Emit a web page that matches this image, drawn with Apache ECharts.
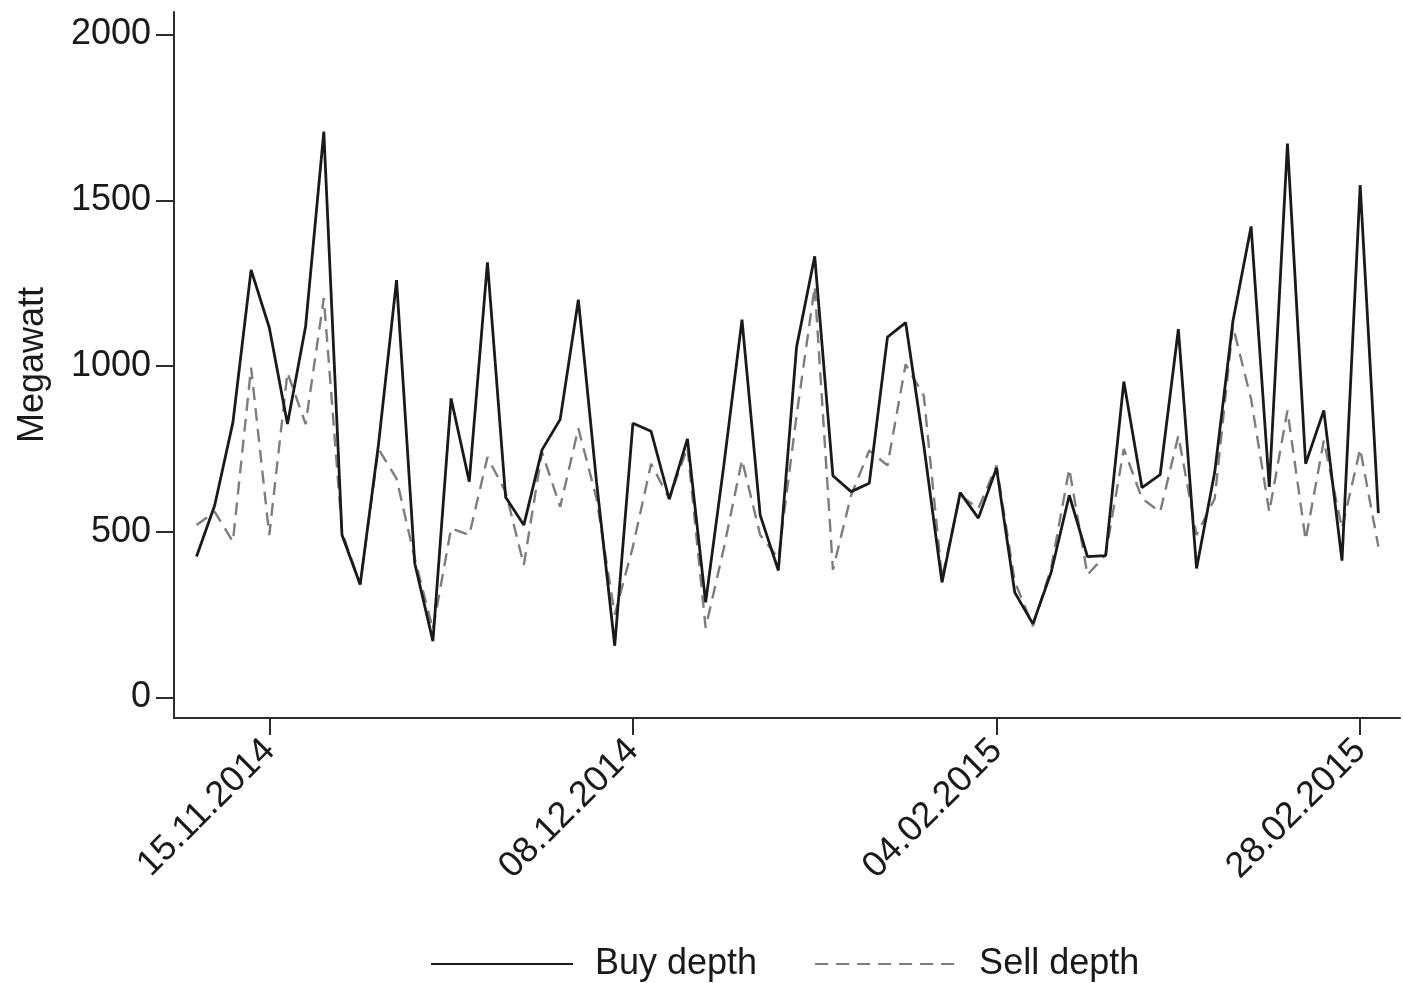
<!DOCTYPE html>
<html>
<head>
<meta charset="utf-8">
<script src="https://cdn.jsdelivr.net/npm/echarts@6/dist/echarts.min.js"></script>
<style>
  html, body { margin: 0; padding: 0; background: #ffffff; }
  #chart { width: 1403px; height: 983px; }
</style>
</head>
<body>
<div id="chart"></div>
<script>
// Daily order-book depth (MW), one value per observation day
const buyDepth = [
  425, 580, 830, 1290, 1116, 825, 1120, 1707, 490, 341,
  760, 1259, 405, 170, 902, 651, 1313, 604, 520, 747,
  839, 1200, 650, 156, 827, 803, 598, 780, 287, 700,
  1140, 550, 383, 1057, 1331, 669, 621, 646, 1087, 1131,
  760, 347, 618, 541, 692, 317, 222, 377, 610, 425,
  428, 953, 633, 672, 1111, 389, 680, 1135, 1421, 635,
  1671, 705, 866, 413, 1546, 556
];
const sellDepth = [
  520, 560, 470, 995, 490, 980, 825, 1205, 500, 340,
  750, 660, 420, 205, 510, 490, 725, 620, 400, 740,
  575, 812, 600, 250, 455, 705, 600, 755, 210, 450,
  717, 490, 420, 850, 1240, 385, 610, 745, 700, 1005,
  910, 360, 610, 570, 700, 350, 215, 390, 690, 370,
  430, 750, 600, 560, 790, 490, 600, 1120, 900, 560,
  866, 475, 775, 510, 750, 455
];
// Observation positions that carry a date label
const tickPositions = [4, 24, 44, 64];
const tickLabels = ['15.11.2014', '08.12.2014', '04.02.2015', '28.02.2015'];
const yTicks = [0, 500, 1000, 1500, 2000];

const FONT = '"Liberation Sans", Arial, Helvetica, sans-serif';
const AXIS_COLOR = '#2b2b2b';
const TEXT_COLOR = '#1a1a1a';

const toPairs = arr => arr.map((v, i) => [i, v]);

const chart = echarts.init(document.getElementById('chart'), null, { renderer: 'canvas' });
chart.setOption({
  backgroundColor: '#ffffff',
  animation: false,
  grid: { left: 174, right: 3, top: 12, bottom: 265, containLabel: false },
  xAxis: {
    type: 'value',
    min: -1.24,
    max: 66.19,
    splitLine: { show: false },
    axisLine: { show: true, onZero: false, lineStyle: { color: AXIS_COLOR, width: 2 } },
    axisTick: {
      show: true, length: 17, inside: false,
      customValues: tickPositions,
      lineStyle: { color: AXIS_COLOR, width: 2 }
    },
    axisLabel: {
      customValues: tickPositions,
      rotate: 45,
      margin: 27,
      fontFamily: FONT,
      fontSize: 36,
      color: TEXT_COLOR,
      formatter: v => tickLabels[tickPositions.indexOf(Math.round(v))] || ''
    }
  },
  yAxis: {
    type: 'value',
    min: -62,
    max: 2068,
    name: 'Megawatt',
    nameLocation: 'middle',
    nameGap: 123,
    nameRotate: 90,
    nameTextStyle: { fontFamily: FONT, fontSize: 36, color: TEXT_COLOR },
    splitLine: { show: false },
    axisLine: { show: true, onZero: false, lineStyle: { color: AXIS_COLOR, width: 2 } },
    axisTick: {
      show: true, length: 18,
      customValues: yTicks,
      lineStyle: { color: AXIS_COLOR, width: 2 }
    },
    axisLabel: {
      customValues: yTicks,
      margin: 23,
      fontFamily: FONT,
      fontSize: 36,
      color: TEXT_COLOR,
      formatter: v => String(v)
    }
  },
  legend: {
    left: 425,
    top: 941,
    padding: 5,
    itemWidth: 142,
    itemHeight: 20,
    itemGap: 57,
    itemStyle: { opacity: 0 },
    textStyle: { fontFamily: FONT, fontSize: 36, color: TEXT_COLOR, padding: [0, 0, 0, 17] },
    data: ['Buy depth', 'Sell depth']
  },
  series: [
    {
      name: 'Buy depth',
      type: 'line',
      data: toPairs(buyDepth),
      symbol: 'none',
      z: 3,
      lineStyle: { color: '#1a1a1a', width: 2.8, type: 'solid' },
      itemStyle: { color: '#1a1a1a' }
    },
    {
      name: 'Sell depth',
      type: 'line',
      data: toPairs(sellDepth),
      symbol: 'none',
      z: 2,
      lineStyle: { color: '#7d7d7d', width: 2.4, type: [13, 8] },
      itemStyle: { color: '#7d7d7d' }
    }
  ]
});
</script>
</body>
</html>
